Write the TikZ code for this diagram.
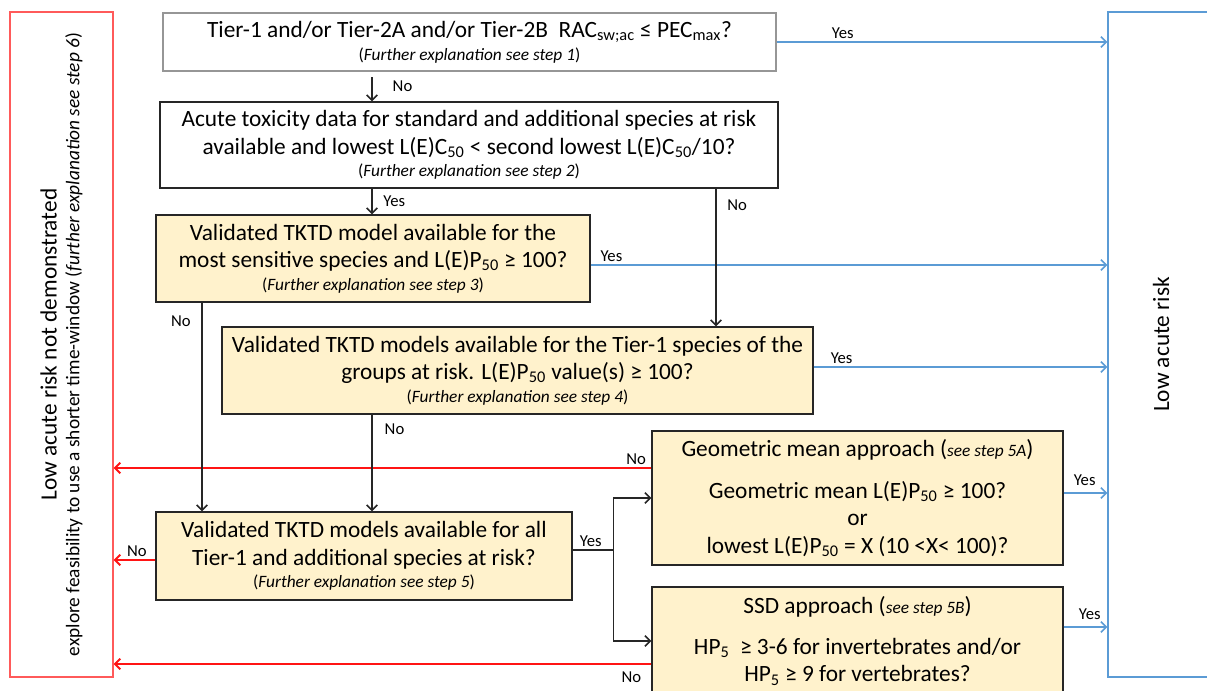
\documentclass[tikz,border=0pt]{standalone}
\usepackage{fontspec}
\setmainfont{Carlito}
\usepackage{graphicx}
\usetikzlibrary{arrows.meta, calc}
\definecolor{boxYellow}{RGB}{255,242,204}
\definecolor{yesBlue}{RGB}{91,155,213}
\definecolor{noRed}{RGB}{255,20,20}
\definecolor{edgeRed}{RGB}{255,90,90}
\definecolor{edgeDark}{RGB}{38,38,38}
\definecolor{edgeGrey}{RGB}{150,150,150}
\newcommand\mainsize{\fontsize{17.5}{20.5}\selectfont}
\newcommand\notesize{\fontsize{13}{15}\selectfont}
\newcommand\lblsize{\fontsize{12.5}{14}\selectfont}
\newcommand\further[1]{{\notesize(\textit{Further explanation see step #1})}}
\tikzset{
    question/.style={draw=edgeDark, line width=1.1pt, fill=white, align=center,
                     inner sep=0pt, font=\mainsize},
    tkbox/.style={question, fill=boxYellow},
    outcome/.style={line width=1.1pt, inner sep=0pt},
    lbl/.style={font=\lblsize, text=black, inner sep=2pt},
    tip/.style={-{Straight Barb[length=4pt, width=8pt]}},
    flow/.style={draw=edgeDark, line width=1.1pt, tip},
    yesline/.style={draw=yesBlue, line width=1.1pt, tip},
    noline/.style={draw=noRed, line width=1.4pt, tip}
}

\begin{document}
\begin{tikzpicture}[x=0.75pt, y=-0.75pt]
    % page frame
    \useasboundingbox (0,0) rectangle (1207,691);
    \clip (0,0) rectangle (1207,691);

    % the two end states
    \node[outcome, draw=edgeRed, minimum width=77.25pt, minimum height=498.75pt] (notlow) at (61.5,344.5) {};
    \node[rotate=90, align=center] (notlowtext) at (notlow.center)
        {{\mainsize Low acute risk not demonstrated}\\[5pt]
         {\fontsize{14.5}{16}\selectfont explore feasibility to use a shorter time-window (\textit{further explanation see step 6})}};
    \node[outcome, draw=yesBlue, minimum width=79.5pt, minimum height=498.75pt] (low) at (1161,344.5) {};
    \node[rotate=90, font=\mainsize] (lowtext) at (low.center) {Low acute risk};

    % decision steps
    \node[question, draw=edgeGrey, minimum width=459.75pt, minimum height=43.5pt] (tier) at (469.5,42)
        {Tier-1 and/or Tier-2A and/or Tier-2B\ \ RAC\textsubscript{sw;ac} ≤ PEC\textsubscript{max}?\\[-3.5pt]
         \further{1}};
    \node[question, minimum width=463.5pt, minimum height=64.5pt] (acute) at (469,145)
        {Acute toxicity data for standard and additional species at risk\\
         available and lowest L(E)C\textsubscript{50} < second lowest L(E)C\textsubscript{50}/10?\\[-3.5pt]
         \further{2}};
    \node[tkbox, minimum width=325.5pt, minimum height=65.25pt] (sens) at (373,258.5)
        {Validated TKTD model available for the\\
         most sensitive species and L(E)P\textsubscript{50} ≥ 100?\\[-3.5pt]
         \further{3}};
    \node[tkbox, minimum width=443.25pt, minimum height=65.25pt] (groups) at (517.5,370.5)
        {Validated TKTD models available for the Tier-1 species of the\\
         groups at risk. L(E)P\textsubscript{50} value(s) ≥ 100?\\[-3.5pt]
         \further{4}};
    \node[tkbox, minimum width=312pt, minimum height=66pt] (all) at (364,556)
        {Validated TKTD models available for all\\
         Tier-1 and additional species at risk?\\[-3.5pt]
         \further{5}};
    \node[tkbox, minimum width=308.25pt, minimum height=100.5pt] (geo) at (857.5,498)
        {Geometric mean approach ({\notesize\textit{see step 5A}})\\[11pt]
         Geometric mean L(E)P\textsubscript{50} ≥ 100?\\
         or\\
         lowest L(E)P\textsubscript{50} = X (10 <X< 100)?};
    \node[tkbox, minimum width=308.25pt, minimum height=81pt] (ssd) at (857.5,641)
        {SSD approach ({\notesize\textit{see step 5B}})\\[10pt]
         HP\textsubscript{5}\ \ ≥ 3-6 for invertebrates and/or\\
         HP\textsubscript{5} ≥ 9 for vertebrates?};

    % columns of the downward arrows and the exit points
    \coordinate (colA) at (372,0);
    \coordinate (colB) at (716,0);
    \coordinate (colC) at (202,0);
    \coordinate (fromall) at ($(all.east)+(0,-6)$);
    \coordinate (fork) at ($(fromall)+(41,0)$);
    \coordinate (geoNo) at ($(geo.west)+(0,-30)$);
    \coordinate (allNo) at ($(all.west)+(0,4)$);
    \coordinate (ssdNo) at ($(ssd.west)+(0,23)$);
    \coordinate (sensYes) at ($(sens.east)+(0,6.5)$);
    \coordinate (groupsYes) at ($(groups.east)+(0,-3.5)$);
    \coordinate (geoYes) at ($(geo.east)+(0,-5)$);
    \coordinate (ssdYes) at ($(ssd.east)+(0,-14)$);

    % red exits
    \draw[noline] (geoNo) -- node[lbl, above, pos=0.028] {No} (geoNo -| notlow.east);
    \draw[noline] (allNo) -- node[lbl, above, pos=0.44] {No} (allNo -| notlow.east);
    \draw[noline] (ssdNo) -- node[lbl, below=3pt, pos=0.037] {No} (ssdNo -| notlow.east);

    % blue exits
    \draw[yesline] (tier.east) -- node[lbl, above, pos=0.2] {Yes} (tier.east -| low.west);
    \draw[yesline] (sensYes) -- node[lbl, above, pos=0.04] {Yes} (sensYes -| low.west);
    \draw[yesline] (groupsYes) -- node[lbl, above, pos=0.095] {Yes} (groupsYes -| low.west);
    \draw[yesline] (geoYes) -- node[lbl, above=3pt, pos=0.48] {Yes} (geoYes -| low.west);
    \draw[yesline] (ssdYes) -- node[lbl, above=3pt, pos=0.6] {Yes} (ssdYes -| low.west);

    % downward flow
    \draw[flow, shorten <=4pt] (tier.south -| colA) -- node[lbl, right=13pt] {No} (acute.north -| colA);
    \draw[flow] (acute.south -| colA) -- node[lbl, right=6pt] {Yes} (sens.north -| colA);
    \draw[flow] (acute.south -| colB) -- node[lbl, right=6pt, pos=0.12] {No} (groups.north -| colB);
    \draw[flow] (sens.south -| colC) -- node[lbl, left=6pt, pos=0.09] {No} (all.north -| colC);
    \draw[flow] (groups.south -| colA) -- node[lbl, right=7pt, pos=0.15] {No} (all.north -| colA);

    % split into the two approaches
    \draw[draw=edgeDark, line width=1.1pt] (fromall) -- node[lbl, above, pos=0.44] {Yes} (fork);
    \draw[flow] (fork) |- (geo.west);
    \draw[flow] (fork) |- (ssd.west);
\end{tikzpicture}
\end{document}
